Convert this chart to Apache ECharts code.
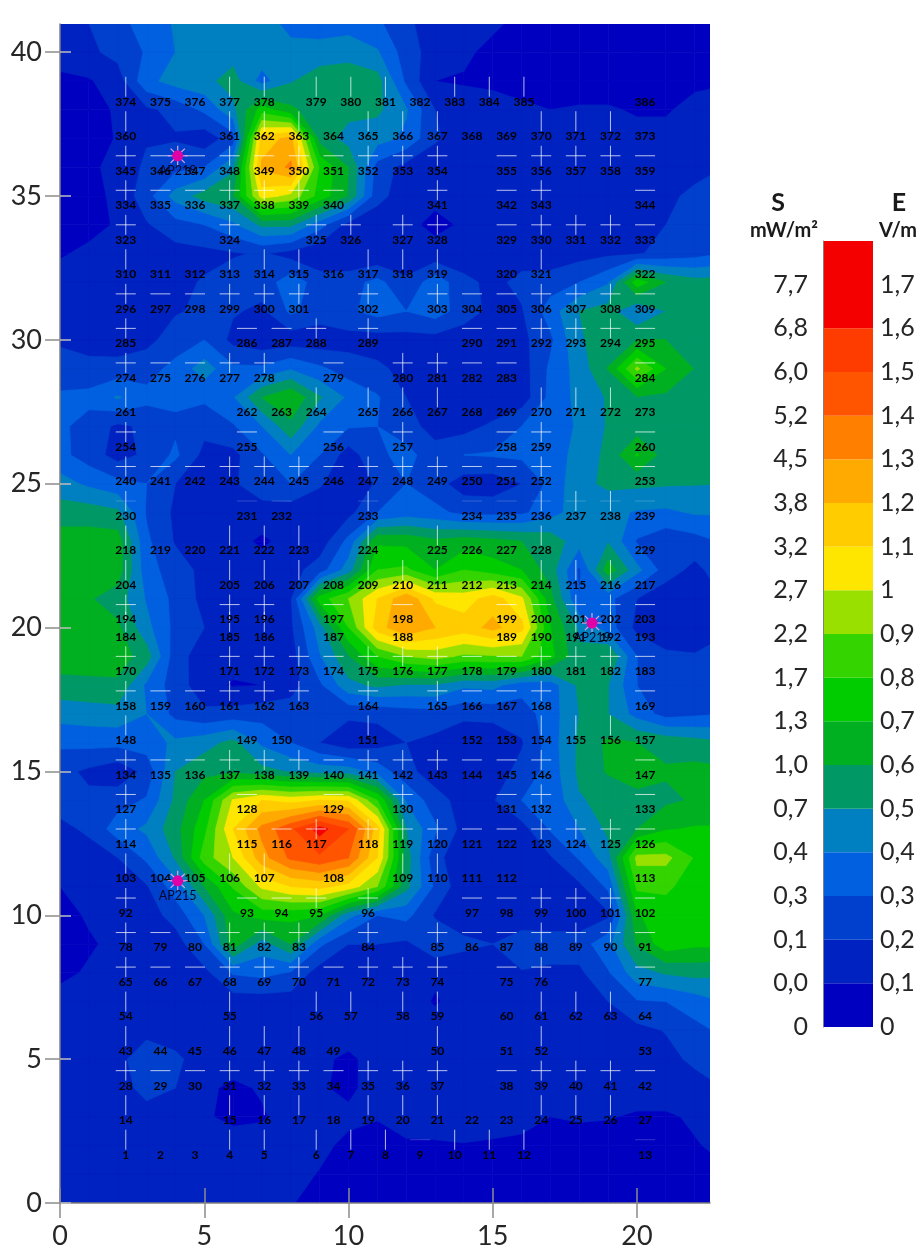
<!DOCTYPE html>
<html>
<head>
<meta charset="utf-8">
<title>S / E field map</title>
<style>
  html, body { margin: 0; padding: 0; background: #fff; }
  #chart { width: 922px; height: 1252px; }
</style>
<script src="https://cdn.jsdelivr.net/npm/echarts@6/dist/echarts.min.js"></script>
</head>
<body>
<div id="chart"></div>
<script>
// band colours, lowest first
var bandColors = ['#0000c0', '#0022c0', '#0040cc', '#0060e0', '#0080c0', '#009966', '#00b020', '#00cc00',
  '#33d400', '#99e000', '#ffe600', '#ffcc00', '#ffaa00', '#ff8000', '#ff5500', '#ff3c00', '#f50000'];
var bandSpans = [1, 1, 1, 1, 1, 1, 1, 1, 1, 1, 1, 1, 1, 1, 1, 1, 2];
var sLabels = ['0', '0,0', '0,1', '0,3', '0,4', '0,7', '1,0', '1,3', '1,7', '2,2', '2,7', '3,2', '3,8', '4,5', '5,2', '6,0', '6,8', '7,7'];
var eLabels = ['0', '0,1', '0,2', '0,3', '0,4', '0,5', '0,6', '0,7', '0,8', '0,9', '1', '1,1', '1,2', '1,3', '1,4', '1,5', '1,6', '1,7'];

var xTicks = [0, 5, 10, 15, 20];
var yTicks = [0, 5, 10, 15, 20, 25, 30, 35, 40];

// field, in band units (E x 10), one row per y from 41 down to 0, x = 0..23
var fieldRows = [
  [1.5,2,2.7,3.4,4.1,4.5,4.5,4.3,3.8,3.5,3.5,3.2,2.2,1.5,1.5,1.2,.7,.5,.5,.5,.5,.5,.5,.5],
  [1.4,1.8,2.3,3.1,4,4.5,4.6,4.6,4.2,4.4,4.7,4.1,2.5,1.5,1.2,.7,.5,.5,.5,.5,.5,.5,.6,.6],
  [.8,.9,1.5,3.7,4.4,4.7,5.4,3.6,4.9,5.6,5.5,5.4,2.8,1,.9,.8,.6,.5,.5,.5,.5,.6,.8,.9],
  [.5,.7,1.1,1.8,2.3,3.2,4.7,7.5,6.2,5.4,5.3,5.2,4.1,2,1.5,1.4,1.2,1,1.1,1.1,.9,.9,1.3,1.5],
  [.5,.7,1.05,1.9,1.9,1.4,2.5,11.5,12.3,5.6,4.6,4.4,3.8,2.1,1.6,1.5,1.5,1.5,1.5,1.4,1.3,1.3,1.4,1.6],
  [.5,.8,1.3,2.2,2.7,3,4.8,12.2,13.2,7.9,6,2.6,1.6,1.5,1.4,1.4,1.5,1.5,1.5,1.5,1.5,1.5,1.7,2],
  [.5,.7,1.2,2.6,4.4,5.4,5.9,10.4,9.7,7.6,5.9,2.3,1.5,1.2,1.2,1.3,1.3,1.3,1.3,1.4,1.6,1.8,2.2,2.6],
  [.5,.7,1.1,1.9,2.6,3,3.8,5.2,5.2,3.4,1.6,1.4,1.2,.8,1.1,1.3,1.2,1.2,1.2,1.4,1.4,2,2.3,2.6],
  [.9,1.2,1.4,1.5,1.6,1.7,1.9,2.1,1.6,1.2,1,1.1,1.3,1.3,1.3,1.3,1.5,1.3,1.6,1.8,1.9,2.3,2.6,3],
  [1.4,1.5,1.5,1.6,1.7,2.1,2.5,2.4,3.6,2.5,2.6,3.3,2.2,3.6,2.3,1.7,2.3,2.5,3,3.9,7.6,6,5.4,5.4],
  [1.3,1.5,1.6,1.7,1.9,2.2,2.1,1.8,3.2,2.5,2.8,3.4,3,3.5,2.5,1.7,1.9,3.5,5,5.4,4,5,5.5,5.5],
  [1.9,1.6,1.4,1.7,2.5,3,1.7,1.3,1.4,1.4,1.6,1.5,1.6,1.6,1.4,1.3,1.7,2.8,4.9,5.4,6,6,5.6,5.4],
  [2.3,2.3,2.4,2.6,3.3,4.5,3.2,3.2,3.9,3.2,2.5,2.2,1.7,1.3,1.2,1.2,1.5,3.2,4.4,6.05,9.2,7,5.95,5.6],
  [3.2,3.3,4.1,3.3,3.2,3.2,3.9,6,6.9,5.1,3.8,3.1,2,1.2,1.1,1.1,1.4,3.3,4.3,5.1,5.9,5.8,5.4,5.4],
  [3.2,2.6,1.8,2.2,2.8,2.3,2.9,4,5.7,3.8,3.1,3,2.5,1.5,1.6,2.2,3,3.6,4.1,5.1,5.4,5.4,5.5,5.5],
  [3.3,2.5,1.6,2.2,3.2,1.7,1.7,2.9,4,3,1.5,2.8,3.3,2.5,3,3.1,3.2,3.7,4.2,5.3,7.1,5.5,5.3,5.4],
  [4.4,3.8,3.3,3,2,1.6,1.8,2.9,3,2.1,1.4,2.1,3,2.4,1.5,1.4,2,3.3,4.7,5.2,5.2,5.1,5.05,5],
  [5.5,5.5,5.2,2.9,1.8,1.4,1.3,1.3,1.4,1.4,1.7,3,3.5,3.3,2.7,2.7,2.8,3.6,4.5,4.3,3.9,3.8,4.1,4.1],
  [6.5,6.5,6.5,3.2,1.9,1.3,1.2,.9,1.2,1.4,3.3,6.8,6.7,6.2,6.5,6.3,6,5.6,4.4,4.9,2.9,2.3,2.6,3.1],
  [6.6,6.6,6.5,3.4,2.5,1.7,1.4,1.3,1.6,2.5,4.5,8,8.2,7,8,7.5,7,5.5,2.8,6.6,4.3,2.5,1.7,2.6],
  [6.4,6.1,5.5,3.9,2.7,1.7,1.5,1.5,1.9,7.5,9,11,12.8,10.8,10.5,11.5,10.2,6.3,3,3.3,2,1.3,1.4,2],
  [6.5,6.5,6.2,4.3,2.7,2,1.4,1.4,1.8,4.5,8,11.5,13,12,11.5,12.3,11.3,7,4.8,3.5,1.7,1.3,1.2,1.7],
  [6.6,6.6,6.5,5.5,2.4,1.5,1.4,1.3,1.5,3.9,5.9,8,9,9.4,8.8,8.9,9,7.3,5.2,6,3,2.2,2.1,2.6],
  [5.6,5.7,5.8,3.8,2.5,1.4,.9,1,1.6,2.8,4.7,5.2,4.9,4.9,4.2,4.3,3.4,3.5,5.2,5,3,2.4,2.4,2.7],
  [4.4,4.5,4.6,4,2.7,2.2,2.4,2.6,2.5,2.1,2.2,2.2,2.5,2.6,2.2,2.3,2.5,3.5,5,5,3.6,2.6,2.8,3],
  [3.2,3.3,3.3,3.5,4.2,4.6,5.3,3.8,3,2,1.3,1.6,2,1.7,1.4,1.3,1.9,3.5,5.2,6.2,6,5.7,5.4,5.1],
  [2.3,1.8,1.3,2.3,5,5.7,5.8,5.3,4.9,4.6,4.5,3.6,2.3,1.5,1.4,1.5,2.3,3.4,5.2,6.1,6.9,6.1,6.3,6.2],
  [2.5,2.2,2.6,3.1,5.2,7,10.1,11,10.6,11,10.9,8,3.9,2.4,1.6,1.9,3,3.2,4.9,5.3,5.4,5.8,6.1,6.2],
  [1.7,2.2,3.5,4.2,5.6,7.7,11,13.3,14.8,16.4,15,11.5,5,3.2,1.6,1.3,1.6,3.1,4,5.2,6,6.9,7.1,7.1],
  [1.3,1.5,2,3.2,5.1,8.5,10,12.6,14.2,14.8,14,11,5.5,2.3,1.3,1.2,1.2,1.9,3.1,4.6,9.3,9.3,7.9,7.3],
  [1,1.2,1.4,1.9,3.5,6,8.1,10.2,11,11.3,10.6,9,5.3,2.8,1.3,1.1,1.2,1.3,1.8,3.2,8.2,8.2,7.5,7.3],
  [.7,1.1,1.3,1.5,2.4,4,6.8,7.4,7.3,7,4.3,3,3.3,1.9,1.5,1.2,1.1,1.1,1.3,1.8,6.9,7.5,7.5,7.5],
  [.7,.9,1.2,1.4,1.5,3,6.5,4.5,6,3.2,2,2,1.8,2.7,2.2,2,2.8,2.7,2.5,3.7,6.1,7.6,7.2,7.2],
  [.8,1.1,1.3,1.4,1.5,1.7,3.1,3.3,2.9,1.5,1.4,1.4,1.3,1.2,1.4,1.8,1.9,1.7,1.8,2.9,4.6,5.1,5.3,5.2],
  [1.3,1.5,1.5,1.5,1.5,1.5,1.5,1.5,1.5,1.5,1.5,1.5,1.5,.9,1.4,1.5,1.6,1.7,1.8,2,2.9,3,3.5,4],
  [1.5,1.5,1.5,1.5,1.5,1.5,1.5,1.5,1.5,1.5,1.5,1.5,1.5,1.5,1.5,1.5,1.5,1.5,1.6,1.6,1.7,2.05,2.7,3.2],
  [1.5,1.5,1.5,3,2.2,1.5,1.5,1.5,1.5,1.2,.8,1.4,1.5,1.5,1.5,1.5,1.5,1.5,1.5,1.5,1.5,1.7,2.2,2.7],
  [1.5,1.5,1.5,2.4,2,1.2,.8,1.1,1.4,1.1,.8,1.4,1.5,1.5,1.5,1.5,1.5,1.5,1.5,1.5,1.4,1.4,1.6,2],
  [1.5,1.5,1.5,1.5,1.5,1.1,.8,.9,1.4,1.4,1.2,1.05,1.3,1.4,1.5,1.5,1.3,1,1.1,1.05,.9,.9,1.1,1.5],
  [1.5,1.5,1.5,1.5,1.5,1.5,1.4,1.4,1.4,1.2,.8,.7,.9,.9,.95,.85,.8,.7,.6,.6,.5,.5,.95,1.15],
  [1.5,1.5,1.5,1.5,1.5,1.5,1.5,1.4,1.3,.95,.6,.5,.5,.5,.5,.5,.5,.5,.5,.5,.5,.5,.6,.9],
  [1.5,1.5,1.5,1.5,1.5,1.5,1.5,1.4,1.05,.7,.5,.5,.5,.5,.5,.5,.5,.5,.5,.5,.5,.5,.5,.6]
];

// measuring points, numbered from the bottom row up: [y, x list, mark per point]
// mark: + cross, - horizontal bar, | vertical bar, . nothing
var siteRows = [
  [2.2, [2.28,3.48,4.68,5.88,7.08,8.88,10.08,11.28,12.48,13.68,14.88,16.08,20.28], '|..|||||-|||-'],
  [3.4, [2.28,5.88,7.08,8.28,9.48,10.68,11.88,13.08,14.28,15.48,16.68,17.88,19.08,20.28], '||||.|||..|||.'],
  [4.6, [2.28,3.48,4.68,5.88,7.08,8.28,9.48,10.68,11.88,13.08,15.48,16.68,17.88,19.08,20.28], '+--+++-+++-+++-'],
  [5.8, [2.28,3.48,4.68,5.88,7.08,8.28,9.48,13.08,15.48,16.68,20.28], '|..|||.|.|.'],
  [7.0, [2.28,5.88,8.88,10.08,11.88,13.08,15.48,16.68,17.88,19.08,20.28], '||||||.|||.'],
  [8.2, [2.28,3.48,4.68,5.88,7.08,8.28,9.48,10.68,11.88,13.08,15.48,16.68,20.28], '+--+++-+++-+-'],
  [9.4, [2.28,3.48,4.68,5.88,7.08,8.28,10.68,13.08,14.28,15.48,16.68,17.88,19.08,20.28], '+--+++++--+++-'],
  [10.6, [2.28,6.48,7.68,8.88,10.68,14.28,15.48,16.68,17.88,19.08,20.28], '+--++--+++-'],
  [11.8, [2.28,3.48,4.68,5.88,7.08,9.48,11.88,13.08,14.28,15.48,20.28], '|..||.||...'],
  [13.0, [2.28,6.48,7.68,8.88,10.68,11.88,13.08,14.28,15.48,16.68,17.88,19.08,20.28], '+--++++--+++-'],
  [14.2, [2.28,6.48,9.48,11.88,15.48,16.68,20.28], '+--+-+-'],
  [15.4, [2.28,3.48,4.68,5.88,7.08,8.28,9.48,10.68,11.88,13.08,14.28,15.48,16.68,20.28], '+--+++-+++--+-'],
  [16.6, [2.28,6.48,7.68,10.68,14.28,15.48,16.68,17.88,19.08,20.28], '|..|..|||.'],
  [17.8, [2.28,3.48,4.68,5.88,7.08,8.28,10.68,13.08,14.28,15.48,16.68,20.28], '+--+++++--+-'],
  [19.0, [2.28,5.88,7.08,8.28,9.48,10.68,11.88,13.08,14.28,15.48,16.68,17.88,19.08,20.28], '++++-+++--+++-'],
  [20.2, [2.28,5.88,7.08,9.48,11.88,15.48,16.68,17.88,19.08,20.28], '|||....||.'],
  [20.8, [2.28,5.88,7.08,9.48,11.88,15.48,16.68,17.88,19.08,20.28], '+++----++-'],
  [22.0, [2.28,5.88,7.08,8.28,9.48,10.68,11.88,13.08,14.28,15.48,16.68,17.88,19.08,20.28], '||||.|||..|||.'],
  [23.2, [2.28,3.48,4.68,5.88,7.08,8.28,10.68,13.08,14.28,15.48,16.68,20.28], '|..|||||..|.'],
  [24.4, [2.28,6.48,7.68,10.68,14.28,15.48,16.68,17.88,19.08,20.28], '+--+--+++-'],
  [25.6, [2.28,3.48,4.68,5.88,7.08,8.28,9.48,10.68,11.88,13.08,14.28,15.48,16.68,20.28], '+--+++-+++--+-'],
  [26.8, [2.28,6.48,9.48,11.88,15.48,16.68,20.28], '+--+-+-'],
  [28.0, [2.28,6.48,7.68,8.88,10.68,11.88,13.08,14.28,15.48,16.68,17.88,19.08,20.28], '|..||||..|||.'],
  [29.2, [2.28,3.48,4.68,5.88,7.08,9.48,11.88,13.08,14.28,15.48,20.28], '+--++-++---'],
  [30.4, [2.28,6.48,7.68,8.88,10.68,14.28,15.48,16.68,17.88,19.08,20.28], '+--++--+++-'],
  [31.6, [2.28,3.48,4.68,5.88,7.08,8.28,10.68,13.08,14.28,15.48,16.68,17.88,19.08,20.28], '+--+++++--+++-'],
  [32.8, [2.28,3.48,4.68,5.88,7.08,8.28,9.48,10.68,11.88,13.08,15.48,16.68,20.28], '|..|||.|||.|.'],
  [34.0, [2.28,5.88,8.88,10.08,11.88,13.08,15.48,16.68,17.88,19.08,20.28], '++++++-+++-'],
  [35.2, [2.28,3.48,4.68,5.88,7.08,8.28,9.48,13.08,15.48,16.68,20.28], '+--+++-+-+-'],
  [36.4, [2.28,3.48,4.68,5.88,7.08,8.28,9.48,10.68,11.88,13.08,15.48,16.68,17.88,19.08,20.28], '+--+-+-+++-+++-'],
  [37.6, [2.28,5.88,7.08,8.28,9.48,10.68,11.88,13.08,14.28,15.48,16.68,17.88,19.08,20.28], '||||.|||..|||.'],
  [38.8, [2.28,3.48,4.68,5.88,7.08,8.88,10.08,11.28,12.48,13.68,14.88,16.08,20.28], '|..|||||.|||.']
];
// rows whose horizontal bars nearly vanish in the picture
var faintRows = [2.2, 3.4, 24.4];

var apNames = ['AP218', 'AP219', 'AP215'];
var apX = [4.08, 18.44, 4.08];
var apY = [36.4, 20.16, 11.2];

var FONT = 'Lato, "Open Sans", sans-serif';

function buildCells() {
  var cells = [];
  var top = fieldRows.length - 1;
  for (var r = 0; r < top; r++) {
    for (var c = 0; c < fieldRows[r].length - 1; c++) {
      // x, y of the lower left node, then the corners going round
      cells.push([c, top - r - 1, fieldRows[r + 1][c], fieldRows[r + 1][c + 1], fieldRows[r][c + 1], fieldRows[r][c]]);
    }
  }
  return cells;
}

function buildSites() {
  var sites = [];
  var id = 1;
  siteRows.forEach(function (row) {
    row[1].forEach(function (x, i) {
      sites.push([x, row[0], id, row[2].charAt(i)]);
      id++;
    });
  });
  return sites;
}

// the part of a cell where the field is at or above level
function clipCell(corners, level) {
  var out = [];
  corners.forEach(function (p, i) {
    var q = corners[(i + 1) % 4];
    if (p[2] >= level) out.push([p[0], p[1]]);
    if ((p[2] >= level) !== (q[2] >= level)) {
      var t = (level - p[2]) / (q[2] - p[2]);
      out.push([p[0] + (q[0] - p[0]) * t, p[1] + (q[1] - p[1]) * t]);
    }
  });
  return out;
}

// one series per band, painted lowest first, so a band never covers the one above it
function bandRenderer(level) {
  return function (params, api) {
    var x = api.value(0);
    var y = api.value(1);
    var corners = [
      [x, y, api.value(2)],
      [x + 1, y, api.value(3)],
      [x + 1, y + 1, api.value(4)],
      [x, y + 1, api.value(5)]
    ];
    var points = clipCell(corners, level).map(function (p) {
      return api.coord(p);
    });
    if (points.length < 3) return null;
    return {
      type: 'polygon',
      shape: { points: points },
      style: { fill: bandColors[level], stroke: bandColors[level], lineWidth: 0.7 }
    };
  };
}

function renderSite(params, api) {
  var p = api.coord([api.value(0), api.value(1)]);
  var mark = siteMarks[params.dataIndex];
  var barAlpha = faintRows.indexOf(api.value(1)) >= 0 ? 0.2 : 0.72;
  var children = [];
  if (mark === '+' || mark === '-') {
    children.push({
      type: 'line',
      shape: { x1: p[0] - 10, y1: p[1], x2: p[0] + 10, y2: p[1] },
      style: { stroke: 'rgba(255,255,255,' + barAlpha + ')', lineWidth: 1 }
    });
  }
  if (mark === '+' || mark === '|') {
    children.push({
      type: 'line',
      shape: { x1: p[0], y1: p[1] - 10, x2: p[0], y2: p[1] + 10 },
      style: { stroke: 'rgba(255,255,255,0.72)', lineWidth: 1 }
    });
  }
  children.push({
    type: 'text',
    x: p[0],
    y: p[1] + 15,
    style: {
      text: String(api.value(2)),
      fill: '#000',
      font: 'bold 12px ' + FONT,
      align: 'center',
      verticalAlign: 'middle'
    }
  });
  return { type: 'group', children: children };
}

function renderAp(params, api) {
  var p = api.coord([api.value(0), api.value(1)]);
  var children = [];
  for (var i = 0; i < 8; i++) {
    var a = (i * Math.PI) / 4;
    children.push({
      type: 'line',
      shape: { x1: p[0], y1: p[1], x2: p[0] + Math.cos(a) * 10, y2: p[1] + Math.sin(a) * 10 },
      style: { stroke: '#e8a0e8', lineWidth: 1.2 }
    });
  }
  children.push({ type: 'circle', shape: { cx: p[0], cy: p[1], r: 5.5 }, style: { fill: '#e000a8' } });
  children.push({
    type: 'text',
    x: p[0],
    y: p[1] + 15,
    style: {
      text: apNames[params.dataIndex],
      fill: '#06062a',
      font: '12.5px ' + FONT,
      align: 'center',
      verticalAlign: 'middle'
    }
  });
  return { type: 'group', children: children };
}

var sites = buildSites();
var siteMarks = sites.map(function (s) { return s[3]; });
var cells = buildCells();

var tickLine = { color: '#8c8c8c', width: 1.5 };
var edgeLine = { show: true, lineStyle: { color: '#7f7f7f', width: 1.5 } };

var fieldSeries = bandColors.map(function (color, level) {
  return {
    type: 'custom',
    xAxisIndex: 0,
    yAxisIndex: 0,
    clip: true,
    silent: true,
    progressive: 0,
    z: 2,
    renderItem: bandRenderer(level),
    data: cells
  };
});

var legendSeries = bandColors.map(function (color, i) {
  return {
    type: 'bar',
    xAxisIndex: 2,
    yAxisIndex: 2,
    stack: 'bands',
    barWidth: '100%',
    silent: true,
    animation: false,
    data: [bandSpans[i]],
    itemStyle: { color: color }
  };
});

var option = {
  backgroundColor: '#fff',
  animation: false,
  grid: [
    { left: 60, top: 24, width: 650, height: 1179 },
    { left: 823, top: 241, width: 50, height: 786 }
  ],
  xAxis: [
    {
      type: 'value', gridIndex: 0, position: 'bottom', min: 0, max: 22.53, z: 5,
      axisLine: { show: false }, splitLine: { show: false },
      axisTick: { show: true, length: 15, lineStyle: tickLine, customValues: xTicks },
      axisLabel: { color: '#262626', fontFamily: FONT, fontSize: 27, margin: 20, customValues: xTicks }
    },
    {
      type: 'value', gridIndex: 0, position: 'top', min: 0, max: 22.53, z: 5,
      axisLine: edgeLine, splitLine: { show: false },
      axisTick: { show: true, length: 15, lineStyle: tickLine, customValues: xTicks },
      axisLabel: { show: false }
    },
    {
      type: 'category', gridIndex: 1, data: ['E'],
      axisLine: { show: false }, axisTick: { show: false }, axisLabel: { show: false }
    }
  ],
  yAxis: [
    {
      type: 'value', gridIndex: 0, position: 'left', min: 0, max: 40.98, z: 5,
      axisLine: edgeLine, splitLine: { show: false },
      axisTick: { show: true, length: 15, lineStyle: tickLine, customValues: yTicks },
      axisLabel: { color: '#262626', fontFamily: FONT, fontSize: 27, margin: 18, customValues: yTicks }
    },
    {
      type: 'value', gridIndex: 0, position: 'right', min: 0, max: 40.98, z: 5,
      axisLine: { show: false }, splitLine: { show: false },
      axisTick: { show: true, length: 11, lineStyle: { color: '#bdbdbd', width: 1.5 }, customValues: yTicks },
      axisLabel: { show: false }
    },
    {
      type: 'value', gridIndex: 1, position: 'left', min: 0, max: 18, z: 5,
      axisLine: { show: true, lineStyle: { color: '#808080', width: 1 } }, axisTick: { show: false }, splitLine: { show: false },
      axisLabel: {
        color: '#262626', fontFamily: FONT, fontSize: 25, margin: 15,
        customValues: sLabels.map(function (t, i) { return i; }),
        formatter: function (v) { return sLabels[v]; }
      }
    },
    {
      type: 'value', gridIndex: 1, position: 'right', min: 0, max: 18, z: 5,
      axisLine: { show: false }, axisTick: { show: false }, splitLine: { show: false },
      axisLabel: {
        color: '#262626', fontFamily: FONT, fontSize: 25, margin: 7,
        customValues: eLabels.map(function (t, i) { return i; }),
        formatter: function (v) { return eLabels[v]; }
      }
    }
  ],
  graphic: [
    { type: 'text', x: 778, y: 203, style: { text: 'S', font: 'bold 25px ' + FONT, fill: '#1a1a1a', align: 'center', verticalAlign: 'middle' } },
    { type: 'text', x: 784, y: 231, style: { text: 'mW/m\u00b2', font: 'bold 20px ' + FONT, fill: '#1a1a1a', align: 'center', verticalAlign: 'middle' } },
    { type: 'text', x: 899, y: 203, style: { text: 'E', font: 'bold 25px ' + FONT, fill: '#1a1a1a', align: 'center', verticalAlign: 'middle' } },
    { type: 'text', x: 898, y: 231, style: { text: 'V/m', font: 'bold 20px ' + FONT, fill: '#1a1a1a', align: 'center', verticalAlign: 'middle' } }
  ],
  series: fieldSeries.concat([
    {
      type: 'custom',
      xAxisIndex: 0,
      yAxisIndex: 0,
      silent: true,
      progressive: 0,
      z: 3,
      renderItem: renderSite,
      data: sites.map(function (s) { return [s[0], s[1], s[2]]; })
    },
    {
      type: 'custom',
      xAxisIndex: 0,
      yAxisIndex: 0,
      silent: true,
      z: 4,
      renderItem: renderAp,
      data: apX.map(function (x, i) { return [x, apY[i]]; })
    }
  ], legendSeries)
};

var chart = echarts.init(document.getElementById('chart'));
chart.setOption(option);
</script>
</body>
</html>
